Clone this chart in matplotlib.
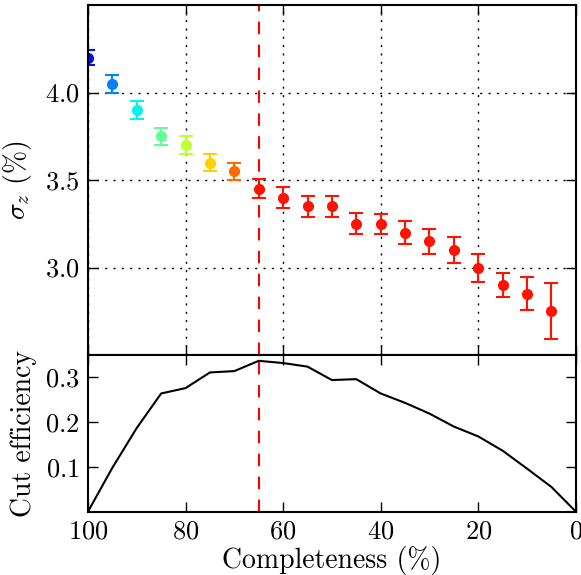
import matplotlib
matplotlib.use("Agg")
import matplotlib.pyplot as plt
import numpy as np

# Computer Modern look
plt.rcParams["font.family"] = "serif"
plt.rcParams["font.serif"] = ["cmr10"]
plt.rcParams["mathtext.fontset"] = "cm"
plt.rcParams["axes.formatter.use_mathtext"] = True

# Top panel: sigma_z vs completeness
completeness = [100, 95, 90, 85, 80, 75, 70, 65, 60, 55, 50, 45, 40, 35, 30, 25, 20, 15, 10, 5]
sigma_z = [4.20, 4.05, 3.90, 3.75, 3.70, 3.60, 3.55, 3.45, 3.40, 3.35, 3.35, 3.25, 3.25,
           3.20, 3.15, 3.10, 3.00, 2.90, 2.85, 2.75]
sigma_err = [0.045, 0.05, 0.05, 0.05, 0.05, 0.05, 0.05, 0.055, 0.06, 0.06, 0.06, 0.06, 0.057,
             0.063, 0.07, 0.075, 0.08, 0.07, 0.094, 0.16]
color_vals = [0.14, 0.25, 0.36, 0.47, 0.58, 0.69, 0.80, 0.89, 0.89, 0.89, 0.89, 0.89, 0.89,
              0.89, 0.89, 0.89, 0.89, 0.89, 0.89, 0.89]

# Bottom panel: cut efficiency
eff_completeness = [100, 95, 90, 85, 80, 75, 70, 65, 60, 55, 50, 45, 40, 35, 30, 25, 20, 15, 10, 5, 0]
cut_efficiency = [0.0, 0.098, 0.187, 0.264, 0.276, 0.311, 0.314, 0.337, 0.332, 0.324, 0.294,
                  0.296, 0.264, 0.243, 0.219, 0.190, 0.168, 0.136, 0.096, 0.055, 0.0]

best_cut = 65

fig = plt.figure(figsize=(5.81, 5.75), dpi=100)
ax1 = fig.add_axes([0.1515, 0.3826, 0.8395, 0.6087])
ax2 = fig.add_axes([0.1515, 0.1104, 0.8395, 0.2722], sharex=ax1)

cmap = plt.get_cmap("jet")
for x, y, e, c in zip(completeness, sigma_z, sigma_err, color_vals):
    ax1.errorbar(x, y, yerr=e, fmt="o", color=cmap(c), ms=7, capsize=5,
                 elinewidth=1.5, capthick=1.5)

ax1.axvline(best_cut, color="red", lw=1.5, linestyle=(0, (6, 5)))
ax1.set_ylim(2.5, 4.5)
ax1.set_yticks([3.0, 3.5, 4.0])
ax1.set_ylabel(r"$\sigma_z$ (%)", fontsize=20, labelpad=8)
ax1.grid(True, color="black", linestyle=(0, (1.5, 4.5)), lw=1.0)
plt.setp(ax1.get_xticklabels(), visible=False)

ax2.plot(eff_completeness, cut_efficiency, color="black", lw=1.5)
ax2.axvline(best_cut, color="red", lw=1.5, linestyle=(0, (6, 5)))
ax2.set_ylim(0, 0.35)
ax2.set_yticks([0.1, 0.2, 0.3])
ax2.set_xlim(100, 0)
ax2.set_xticks([100, 80, 60, 40, 20, 0])
ax2.set_xlabel("Completeness (%)", fontsize=20, labelpad=2)
ax2.set_ylabel("Cut efficiency", fontsize=20, labelpad=6)

for ax in (ax1, ax2):
    ax.tick_params(direction="in", top=True, right=True, length=7, width=1.0,
                   labelsize=19, pad=6)
    for s in ax.spines.values():
        s.set_linewidth(1.5)

fig.savefig("out.png", dpi=100)
